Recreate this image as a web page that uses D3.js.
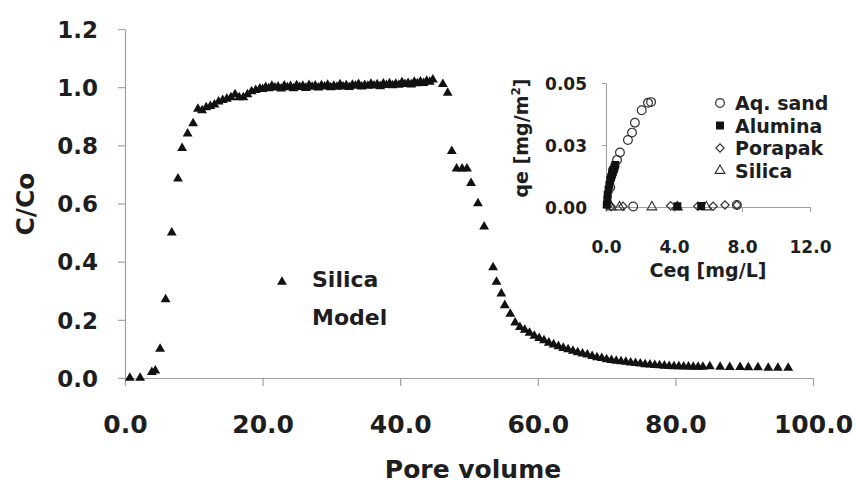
<!DOCTYPE html>
<html>
<head>
<meta charset="utf-8">
<script src="https://cdn.jsdelivr.net/npm/d3@7"></script>
<style>
  html, body { margin: 0; padding: 0; background: #fff; }
  svg { display: block; }
  text { font-family: "DejaVu Sans", sans-serif; font-weight: bold; fill: #1e1e1e; }
</style>
</head>
<body>
<svg id="chart" width="856" height="488"></svg>
<script>
// Breakthrough curve: pore volume vs C/Co (silica column)
const poreVolume = [
  0.7, 2.2, 3.9, 4.4, 5.1, 5.9, 6.8, 7.7, 8.3, 9.1, 9.9,
  10.6, 11.2, 11.8, 12.4, 13.0, 13.6, 14.2, 14.8, 15.4, 16.0, 16.6, 17.2, 17.8, 18.4, 19.0, 19.6,
  20.0, 20.45, 20.9, 21.35, 21.8, 22.25, 22.7, 23.15, 23.6, 24.05, 24.5, 24.95, 25.4, 25.85,
  26.3, 26.75, 27.2, 27.65, 28.1, 28.55, 29.0, 29.45, 29.9, 30.35, 30.8, 31.25, 31.7, 32.15,
  32.6, 33.05, 33.5, 33.95, 34.4, 34.85, 35.3, 35.75, 36.2, 36.65, 37.1, 37.55, 38.0, 38.45,
  38.9, 39.35, 39.8, 40.25, 40.7, 41.15, 41.6, 42.05, 42.5, 42.95, 43.4, 43.85, 44.3, 44.75,
  46.2, 46.9, 47.5, 48.2, 49.0, 49.7, 50.3, 51.3, 52.2, 53.5, 54.0, 54.7, 55.2, 56.0, 56.7,
  57.4, 58.1, 58.8, 59.5, 60.2, 60.9, 61.6, 62.3, 63.0, 63.7, 64.4, 65.1, 65.8, 66.5, 67.2, 67.9,
  68.6, 69.3, 70.0, 70.7, 71.4, 72.1, 72.8, 73.5, 74.2, 74.9, 75.6, 76.3, 77.0, 77.7, 78.4, 79.1,
  79.8, 80.5, 81.2, 81.9, 82.6, 83.3, 84.0,
  85.0, 86.5, 87.9, 89.4, 90.6, 92.0, 93.5, 94.9, 96.4
];
const cOverC0 = [
  0.0, 0.0, 0.02, 0.025, 0.10, 0.27, 0.50, 0.685, 0.79, 0.84, 0.875,
  0.925, 0.92, 0.93, 0.935, 0.94, 0.95, 0.955, 0.96, 0.965, 0.975, 0.965, 0.965, 0.975, 0.985, 0.99, 0.995,
  0.993, 1.000, 0.996, 1.004, 0.998, 1.002, 0.995, 1.005, 0.999, 1.003, 0.996, 1.006, 1.000, 1.004,
  0.997, 1.007, 1.001, 1.005, 0.998, 1.006, 1.002, 1.008, 0.999, 1.004, 1.001, 1.009, 1.002, 1.006,
  1.000, 1.008, 1.004, 1.010, 1.002, 1.007, 1.004, 1.011, 1.005, 1.009, 1.003, 1.012, 1.007, 1.013,
  1.006, 1.011, 1.008, 1.016, 1.010, 1.014, 1.009, 1.018, 1.013, 1.019, 1.014, 1.021, 1.018, 1.026,
  1.01, 0.98, 0.78, 0.72, 0.72, 0.72, 0.67, 0.60, 0.52, 0.38, 0.33, 0.29, 0.25, 0.22, 0.19,
  0.175, 0.165, 0.155, 0.145, 0.137, 0.129, 0.121, 0.115, 0.109, 0.103, 0.098, 0.093, 0.088, 0.084, 0.080, 0.075,
  0.071, 0.068, 0.064, 0.061, 0.059, 0.057, 0.055, 0.053, 0.051, 0.049, 0.047, 0.046, 0.044, 0.043, 0.042, 0.041,
  0.040, 0.040, 0.039, 0.039, 0.038, 0.038, 0.038,
  0.040, 0.038, 0.037, 0.037, 0.036, 0.036, 0.035, 0.035, 0.035
];
const mainXTicks = [0, 20, 40, 60, 80, 100];
const mainYTicks = [0, 0.2, 0.4, 0.6, 0.8, 1.0, 1.2];

// Isotherms: Ceq [mg/L] vs qe [mg/m2]
const aqSandCeq = [0.1, 0.25, 0.41, 0.65, 0.82, 1.29, 1.53, 1.7, 2.1, 2.47, 2.65, 1.6, 7.7];
const aqSandQe  = [0.001, 0.008, 0.0149, 0.019, 0.022, 0.027, 0.030, 0.034, 0.039, 0.042, 0.0423, 0.0002, 0.0008];
const aluminaCeq = [0.05, 0.08, 0.1, 0.15, 0.2, 0.25, 0.3, 0.35, 0.4, 0.45, 0.5, 0.55, 4.2, 5.6];
const aluminaQe  = [0.001, 0.003, 0.005, 0.007, 0.009, 0.011, 0.012, 0.013, 0.014, 0.015, 0.016, 0.017, 0.0003, 0.0004];
const porapakCeq = [0.3, 1.0, 3.8, 5.4, 6.3, 7.0, 7.7];
const porapakQe  = [0.0002, 0.0003, 0.0005, 0.0003, 0.0003, 0.0008, 0.0008];
const silicaCeq = [0.3, 0.8, 2.7, 4.2, 5.9];
const silicaQe  = [0.0, 0.0, 0.0, 0.0, 0.0];
const insetXTicks = [0, 4, 8, 12];
const insetYTicks = [0, 0.025, 0.05];
const insetYTickLabels = ["0.00", "0.03", "0.05"];
const insetLegend = ["Aq. sand", "Alumina", "Porapak", "Silica"];

const svg = d3.select("#chart");
const axisGrey = "#a0a0a0";

// ---------- main chart ----------
const x = d3.scaleLinear().domain([0, 100]).range([125, 813]);
const y = d3.scaleLinear().domain([0, 1.2]).range([378, 29]);

const xAxis = svg.append("g")
  .attr("transform", `translate(0,${y(0)})`)
  .call(d3.axisBottom(x).tickValues(mainXTicks).tickFormat(d3.format(".1f"))
        .tickSizeInner(8).tickSizeOuter(0).tickPadding(29));
const yAxis = svg.append("g")
  .attr("transform", `translate(${x(0)},0)`)
  .call(d3.axisLeft(y).tickValues(mainYTicks).tickFormat(d3.format(".1f"))
        .tickSizeInner(7).tickSizeOuter(0).tickPadding(20));
[xAxis, yAxis].forEach(g => {
  g.select(".domain").attr("stroke", axisGrey).attr("stroke-width", 1.2);
  g.selectAll(".tick line").attr("stroke", axisGrey).attr("stroke-width", 1.2);
  g.selectAll(".tick text").attr("fill", "#1e1e1e")
    .attr("font-family", "DejaVu Sans, sans-serif").attr("font-weight", "bold");
});
xAxis.selectAll(".tick text").attr("font-size", 25);
yAxis.selectAll(".tick text").attr("font-size", 23).attr("dy", "0.36em");

const tri = d3.symbol().type(d3.symbolTriangle).size(42);
svg.append("g").selectAll("path")
  .data(poreVolume.map((v, i) => [v, cOverC0[i]]))
  .join("path")
  .attr("d", tri)
  .attr("transform", d => `translate(${x(d[0])},${y(d[1])})`)
  .attr("fill", "#111");

svg.append("text").attr("x", 473).attr("y", 478).attr("text-anchor", "middle")
  .attr("font-size", 25).text("Pore volume");
svg.append("text").attr("transform", "translate(34,204) rotate(-90)")
  .attr("text-anchor", "middle").attr("font-size", 25).text("C/Co");

// main legend
svg.append("path").attr("d", tri).attr("transform", "translate(282,282)").attr("fill", "#111");
svg.append("text").attr("x", 312).attr("y", 287).attr("font-size", 22).text("Silica");
svg.append("text").attr("x", 312).attr("y", 325).attr("font-size", 22).text("Model");

// ---------- inset isotherms ----------
const xi = d3.scaleLinear().domain([0, 12]).range([606, 810]);
const yi = d3.scaleLinear().domain([0, 0.05]).range([207, 83]);

const xiAxis = svg.append("g")
  .attr("transform", `translate(0,${yi(0)})`)
  .call(d3.axisBottom(xi).tickValues(insetXTicks).tickFormat(d3.format(".1f"))
        .tickSizeInner(5).tickSizeOuter(0).tickPadding(29));
const yiAxis = svg.append("g")
  .attr("transform", `translate(${xi(0)},0)`)
  .call(d3.axisLeft(yi).tickValues(insetYTicks).tickFormat((d, i) => insetYTickLabels[i])
        .tickSizeInner(4).tickSizeOuter(0).tickPadding(15));
[xiAxis, yiAxis].forEach(g => {
  g.select(".domain").attr("stroke", axisGrey).attr("stroke-width", 1.1);
  g.selectAll(".tick line").attr("stroke", axisGrey).attr("stroke-width", 1.1);
  g.selectAll(".tick text").attr("font-size", 17).attr("fill", "#1e1e1e")
    .attr("font-family", "DejaVu Sans, sans-serif").attr("font-weight", "bold");
});
yiAxis.selectAll(".tick text").attr("dy", "0.36em");

const mk = "#333";
const circ = d3.symbol().type(d3.symbolCircle).size(60);
const sq = d3.symbol().type(d3.symbolSquare).size(45);
const dia = d3.symbol().type(d3.symbolSquare).size(34);   // drawn rotated 45deg
const triO = d3.symbol().type(d3.symbolTriangle).size(40);
const rot = [0, 0, 45, 0];

const plotSeries = (cx, cy, sym, filled, angle) => {
  svg.append("g").selectAll("path")
    .data(cx.map((v, i) => [v, cy[i]]))
    .join("path")
    .attr("d", sym)
    .attr("transform", d => `translate(${xi(d[0])},${yi(d[1])}) rotate(${angle})`)
    .attr("fill", filled ? "#111" : "none")
    .attr("stroke", filled ? "#111" : mk)
    .attr("stroke-width", 1.2);
};
plotSeries(silicaCeq, silicaQe, triO, false, 0);
plotSeries(porapakCeq, porapakQe, dia, false, 45);
plotSeries(aqSandCeq, aqSandQe, circ, false, 0);
plotSeries(aluminaCeq, aluminaQe, sq, true, 0);

svg.append("text").attr("x", 708).attr("y", 277).attr("text-anchor", "middle")
  .attr("font-size", 19).text("Ceq [mg/L]");
const qeLabel = svg.append("text").attr("transform", "translate(528,138) rotate(-90)")
  .attr("text-anchor", "middle").attr("font-size", 19);
qeLabel.append("tspan").text("qe [mg/m");
qeLabel.append("tspan").attr("font-size", 12).attr("dy", "-0.7em").text("2");
qeLabel.append("tspan").attr("dy", "0.45em").text("]");

// inset legend
const legSyms = [circ, sq, dia, triO];
const legFill = [false, true, false, false];
insetLegend.forEach((name, i) => {
  const ly = 103 + i * 22.5;
  svg.append("path").attr("d", legSyms[i]).attr("transform", `translate(720,${ly}) rotate(${rot[i]})`)
    .attr("fill", legFill[i] ? "#111" : "none")
    .attr("stroke", legFill[i] ? "#111" : mk).attr("stroke-width", 1.2);
  svg.append("text").attr("x", 735).attr("y", ly + 7).attr("font-size", 19).text(name);
});
</script>
</body>
</html>
